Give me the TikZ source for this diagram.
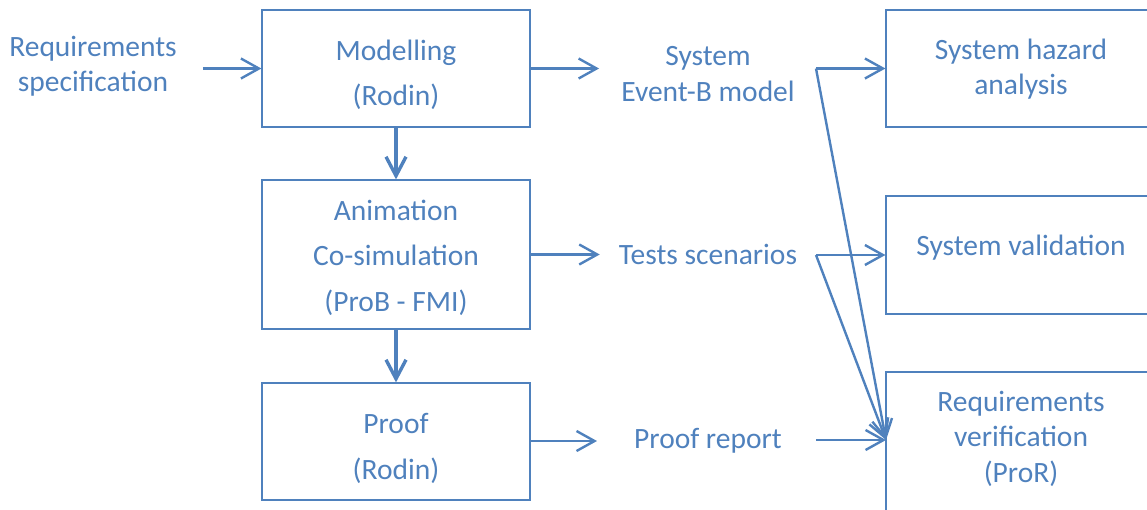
\documentclass[tikz,border=0pt]{standalone}
\usepackage{fontspec}
\setmainfont{Carlito}
\usetikzlibrary{arrows.meta}
\definecolor{ink}{RGB}{79,129,189}
\begin{document}
\begin{tikzpicture}[x=1pt,y=-1pt,
  box/.style={draw=ink,line width=1.2pt,rectangle,inner sep=0pt},
  btxt/.style={text=ink,align=center,inner sep=0pt,font=\fontsize{29.5}{45.5}\selectfont},
  lbl/.style={text=ink,align=center,inner sep=0pt,font=\fontsize{29.5}{35.5}\selectfont},
  arr/.style={draw=ink,line width=2.4pt,
    -{Straight Barb[length=18pt,width=20pt,line width=2.4pt]}},
  down/.style={draw=ink,line width=3.4pt,
    -{Straight Barb[length=19pt,width=20pt,line width=3.4pt]}}]
\useasboundingbox (0,0) rectangle (1147,509);
\clip (0,0) rectangle (1147,509);

% process boxes
\node[box,minimum width=268pt,minimum height=117pt] (model) at (396,68.5) {};
\node[box,minimum width=268pt,minimum height=149pt] (anim) at (396,254.5) {};
\node[box,minimum width=268pt,minimum height=117pt] (proof) at (396,441.5) {};
\node[btxt] (modelt) at (396,75) {Modelling\\(Rodin)};
\node[btxt] (animt) at (396,257.5) {Animation\\Co-simulation\\(ProB - FMI)};
\node[btxt] (prooft) at (396,448.5) {Proof\\(Rodin)};

% outcome boxes on the right
\node[box,minimum width=270pt,minimum height=117pt] (hazard) at (1021,68.5) {};
\node[box,minimum width=270pt,minimum height=118pt] (valid) at (1021,255) {};
\node[box,minimum width=270pt,minimum height=160pt] (reqv) at (1021,452) {};
\node[lbl] (hazardt) at (1021,69) {System hazard\\analysis};
\node[lbl] (validt) at (1021,248) {System validation};
\node[lbl] (reqvt) at (1021,438.5) {Requirements\\verification\\(ProR)};

% artefacts
\node[lbl] (spec) at (93,66) {Requirements\\specification};
\node[lbl] (evb) at (708,74) {System\\Event-B model};
\node[lbl] (tests) at (708,254) {Tests scenarios};
\node[lbl] (report) at (708,441) {Proof report};

% branching points
\coordinate (s1) at (816,68.5);
\coordinate (s2) at (816,255);
\coordinate (rin) at (886,440);

% flow
\draw[arr,shorten <=26pt] (spec.east |- model.west) -- (model.west);
\draw[down] (model.south) -- (anim.north);
\draw[down] (anim.south) -- (proof.north);
\draw[arr,shorten >=22pt] (model.east) -- (model.east -| evb.west);
\draw[arr,shorten >=19pt] (anim.east) -- (anim.east -| tests.west);
\draw[arr,shorten >=37pt] (proof.east |- report.west) -- (report.west);

\draw[arr] (s1) -- (hazard.west);
\draw[arr] (s1) -- (rin);
\draw[arr] (s2) -- (valid.west);
\draw[arr] (s2) -- (rin);
\draw[arr] (s1 |- rin) -- (rin);
\end{tikzpicture}
\end{document}
